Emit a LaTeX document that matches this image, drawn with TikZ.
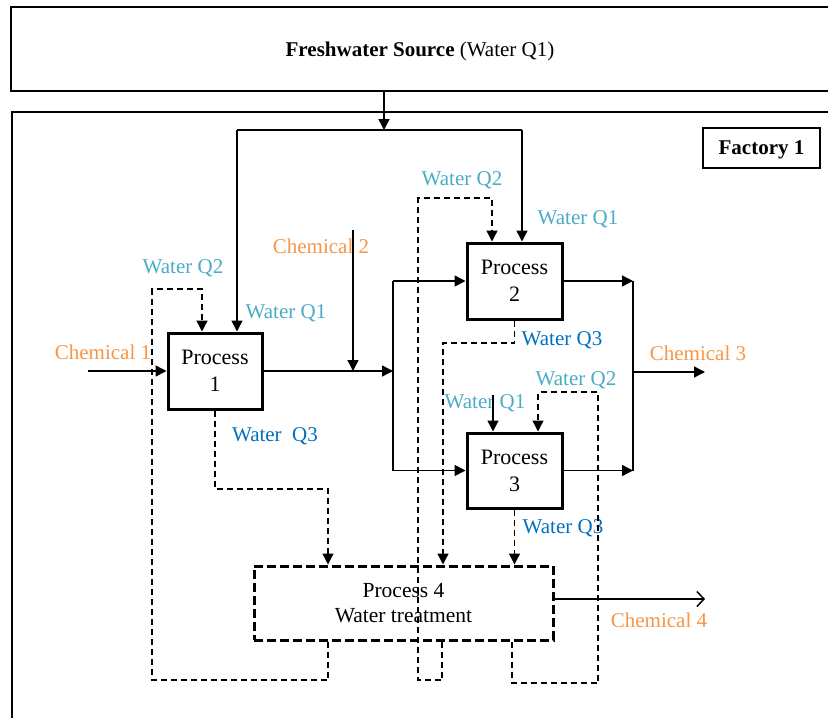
\documentclass[tikz,border=0pt]{standalone}
\usepackage{fontspec}
\setmainfont{Liberation Serif}
\usetikzlibrary{arrows.meta,calc}
\definecolor{qlight}{HTML}{4BACC6}
\definecolor{qdark}{HTML}{0070C0}
\definecolor{chem}{HTML}{F79646}
\begin{document}
\begin{tikzpicture}[x=1pt,y=-1pt,
  every node/.style={font=\fontsize{21}{26}\selectfont,inner sep=0pt},
  outer/.style={draw,line width=1.5pt,rectangle},
  proc/.style={draw,line width=3pt,minimum width=94pt,minimum height=76pt,align=center,font=\fontsize{22}{27}\selectfont},
  treat/.style={draw,line width=3pt,dash pattern=on 9pt off 4pt,minimum width=299pt,minimum height=74pt,align=center,font=\fontsize{21.5}{25}\selectfont},
  flow/.style={line width=1.5pt},
  tri/.style={-{Triangle[length=11pt,width=11pt]}},
  wdash/.style={line width=1.4pt,dash pattern=on 6pt off 4pt},
  lq/.style={text=qlight},
  dq/.style={text=qdark},
  ch/.style={text=chem}]
\useasboundingbox (0,0) rectangle (828,718);
\clip (0,0) rectangle (828,718);
\fill[white] (0,0) rectangle (828,718);
% containers
\node[outer,minimum width=818pt,minimum height=84pt] (src) at (420,49) {};
\node (srct) at (420,51) {\textbf{Freshwater Source} (Water Q1)};
\node[outer,minimum width=828pt,minimum height=620pt] (factory) at (426,422) {};
\node[outer,minimum width=117pt,minimum height=40pt] (fac) at (761.5,148) {};
\node (fact) at (761.5,150) {\textbf{Factory 1}};
% processes
\node[proc] (p1) at (215,371) {Process\\1};
\node[proc,minimum width=95pt] (p2) at (514.5,281) {Process\\2};
\node[proc,minimum width=95pt,minimum height=75pt] (p3) at (514.5,470.5) {Process\\3};
\node[treat] (p4) at (403.5,603) {Process 4\\Water treatment};
% labels
\node[ch] (lc1) at (103,352) {Chemical 1};
\node[ch] (lc2) at (321,246) {Chemical 2};
\node[ch] (lc3) at (698,353) {Chemical 3};
\node[ch] (lc4) at (659,620) {Chemical 4};
\node[lq] (l1q2) at (183,268) {Water Q2};
\node[lq] (l1q1) at (286,313) {Water Q1};
\node[dq] (l1q3) at (275,436) {Water\ \ Q3};
\node[lq] (l2q2) at (462,180) {Water Q2};
\node[lq] (l2q1) at (578,219) {Water Q1};
\node[dq] (l2q3) at (562,340) {Water Q3};
\node[lq] (l3q2) at (576,380) {Water Q2};
\node[lq] (l3q1) at (485,403) {Water Q1};
\node[dq] (l3q3) at (563,528) {Water Q3};
% coordinates
\coordinate (split) at (384,130);
\coordinate (tl) at (237,130);
\coordinate (tr) at (522,130);
\coordinate (c1) at (88,371);
\coordinate (c2) at (353,230);
\coordinate (j1) at (393,371);
\coordinate (j2) at (633,372);
\coordinate (c3) at (705,372);
\coordinate (c4) at (705,599);
\coordinate (q1p3) at (493,395);
% freshwater distribution
\draw[flow,tri] (src.south -| split) -- (split);
\draw[flow] (tl) -- (tr);
\draw[flow,tri] (tl) -- (tl |- p1.north);
\draw[flow,tri] (tr) -- (tr |- p2.north);
\draw[flow,tri] (q1p3) -- (q1p3 |- p3.north);
% main flow
\draw[flow,tri] (c1) -- (p1.west);
\draw[flow,tri] (p1.east) -- (j1);
\draw[flow,tri] (c2) -- (c2 |- j1);
\draw[flow] (j1 |- p2.west) -- (j1 |- p3.west);
\draw[flow,tri] (j1 |- p2.west) -- (p2.west);
\draw[flow,tri] (j1 |- p3.west) -- (p3.west);
\draw[flow,tri] (p2.east) -- (p2.east -| j2);
\draw[flow,tri] (p3.east) -- (p3.east -| j2);
\draw[flow] (p2.east -| j2) -- (p3.east -| j2);
\draw[flow,tri] (j2) -- (c3);
\draw[flow,-{Straight Barb[length=7pt,width=15pt,line width=1.5pt]}] (p4.east |- c4) -- (c4);
% recycled water Q2
\coordinate (a1) at (328,680);
\coordinate (a2) at (152,289);
\coordinate (a3) at (202,289);
\draw[wdash,tri] (a1 |- p4.south) -- (a1) -- (a1 -| a2) -- (a2) -- (a3) -- (a3 |- p1.north);
\coordinate (b1) at (442,680);
\coordinate (b2) at (418,198);
\coordinate (b3) at (492,198);
\draw[wdash,tri] (b1 |- p4.south) -- (b1) -- (b1 -| b2) -- (b2) -- (b3) -- (b3 |- p2.north);
\coordinate (d1) at (512,683);
\coordinate (d2) at (598,392);
\coordinate (d3) at (538,392);
\draw[wdash,tri] (d1 |- p4.south) -- (d1) -- (d1 -| d2) -- (d2) -- (d3) -- (d3 |- p3.north);
% waste water Q3
\coordinate (e1) at (215,489);
\coordinate (e2) at (328,489);
\draw[wdash,tri] (p1.south) -- (e1) -- (e2) -- (e2 |- p4.north);
\coordinate (f1) at (514.5,343);
\coordinate (f2) at (443,343);
\draw[wdash,tri] (p2.south) -- (f1) -- (f2) -- (f2 |- p4.north);
\draw[wdash,tri] (p3.south) -- (p3.south |- p4.north);
\end{tikzpicture}
\end{document}
